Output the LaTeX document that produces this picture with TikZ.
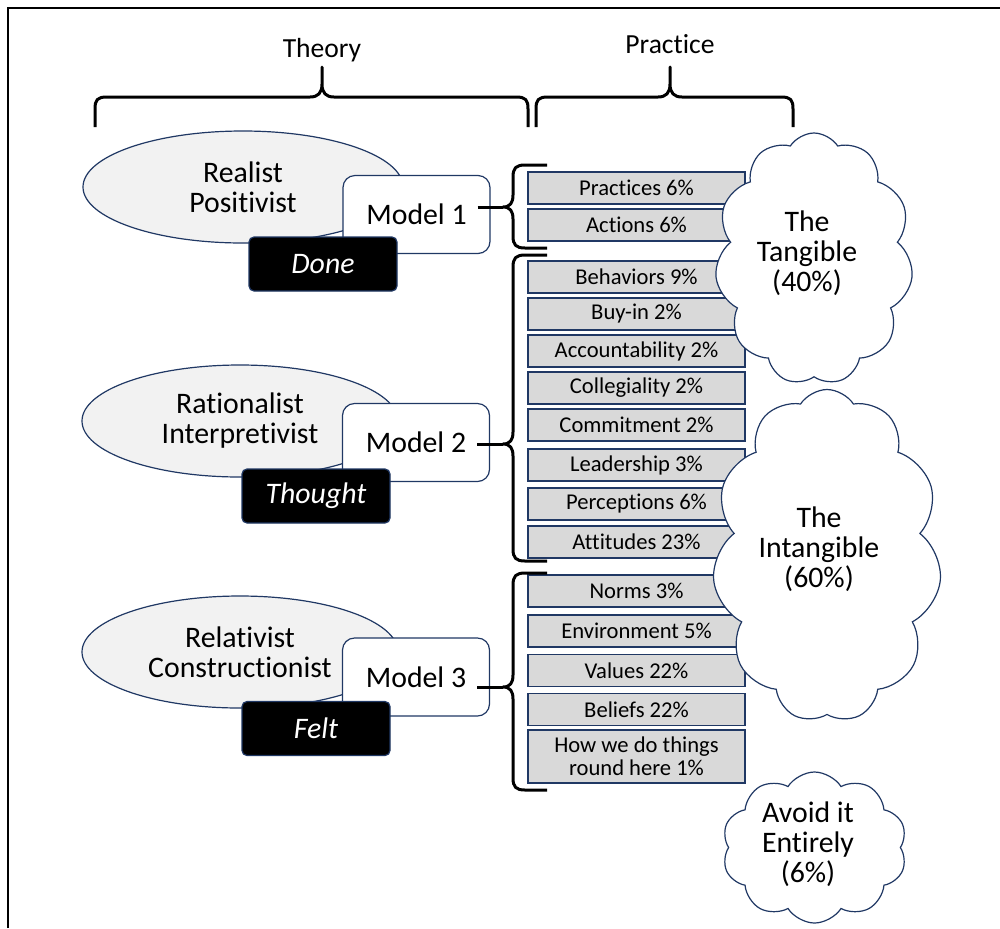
\documentclass[tikz,border=0pt]{standalone}
\usepackage{fontspec}
\setmainfont{Carlito}[Ligatures=NoCommon]
\usetikzlibrary{shapes.geometric,shapes.symbols,calc}
\definecolor{navy}{RGB}{32,56,100}
\definecolor{ellfill}{RGB}{242,242,242}
\definecolor{boxfill}{RGB}{217,217,217}
\newcommand\mybrace[3]{%
  \draw[brc] (547,#1) -- (525,#1) .. controls (516,#1) and (513,#1+3) .. (513,#1+12)
    -- (513,#2-12) .. controls (513,#2-4) and (510,#2) .. (503,#2)
    .. controls (510,#2) and (513,#2+4) .. (513,#2+12)
    -- (513,#3-12) .. controls (513,#3-3) and (516,#3) .. (525,#3) -- (547,#3);}
\newcommand\myhbrace[3]{%
  \draw[brc] (#1,127) -- (#1,109) .. controls (#1,100) and (#1+2,97) .. (#1+12,97)
    -- (#2-12,97) .. controls (#2-4,97) and (#2,93) .. (#2,84) -- (#2,67) -- (#2,84)
    .. controls (#2,93) and (#2+4,97) .. (#2+12,97)
    -- (#3-12,97) .. controls (#3-2,97) and (#3,100) .. (#3,109) -- (#3,127);}
\begin{document}
\begin{tikzpicture}[x=0.5pt,y=-0.5pt,
  bigtxt/.style={font=\fontsize{14.9}{15}\selectfont, align=center},
  ell/.style={ellipse, draw=navy, fill=ellfill, line width=0.6pt, inner sep=0pt, bigtxt,
    minimum width=158pt, minimum height=56pt},
  model/.style={rectangle, rounded corners=6pt, draw=navy, fill=white, line width=0.6pt,
    minimum width=73.5pt, minimum height=39pt, bigtxt, inner sep=0pt},
  lbl/.style={rectangle, rounded corners=2.5pt, draw=navy, fill=black, text=white, line width=0.6pt,
    minimum width=74pt, minimum height=27pt, font=\fontsize{14.9}{15}\selectfont\itshape, inner sep=0pt},
  gbox/.style={rectangle, draw=navy, fill=boxfill, line width=0.7pt, minimum width=108.5pt,
    minimum height=16pt, inner sep=0pt, align=center, font=\fontsize{11.3}{11.6}\selectfont},
  cloudbox/.style={cloud, cloud puffs=11, cloud puff arc=115, cloud ignores aspect, draw=navy,
    fill=white, line width=0.6pt, inner sep=0pt},
  cloudtxt/.style={bigtxt, inner sep=0pt},
  title/.style={font=\fontsize{13.8}{16}\selectfont, anchor=base, inner sep=0pt},
  brc/.style={line width=1.5pt, black, line join=round},
]
\useasboundingbox (0,0) rectangle (1000,928);
\fill[white] (0,0) rectangle (1000,928);
\draw[line width=1pt] (8,928) -- (8,8) -- (1000,8);

% titles and top braces
\node[title] (theory) at (322,57) {Theory};
\node[title] (practice) at (670,53) {Practice};
\myhbrace{95}{322}{528}
\myhbrace{536}{670}{793}

% theory side
\node[ell, minimum width=160pt] (e1) at (243,187) {Realist\\Positivist};
\node[model] (m1) at (416.5,214.5) {Model 1};
\node[lbl] (l1) at (323,264) {Done};

\node[ell] (e2) at (240,421) {Rationalist\\Interpretivist};
\node[model] (m2) at (416,442.5) {Model 2};
\node[lbl] (l2) at (316,496) {Thought};

\node[ell] (e3) at (240,652) {Relativist\\Constructionist};
\node[model] (m3) at (416,677) {Model 3};
\node[lbl] (l3) at (316,728.5) {Felt};

% practice boxes
\node[gbox] (b1) at (636.5,188) {Practices 6\%};
\node[gbox] (b2) at (636.5,225) {Actions 6\%};
\node[gbox] (b3) at (636.5,277) {Behaviors 9\%};
\node[gbox] (b4) at (636.5,314) {Buy-in 2\%};
\node[gbox] (b5) at (636.5,351) {Accountability 2\%};
\node[gbox] (b6) at (636.5,388) {Collegiality 2\%};
\node[gbox] (b7) at (636.5,425) {Commitment 2\%};
\node[gbox] (b8) at (636.5,465) {Leadership 3\%};
\node[gbox] (b9) at (636.5,504) {Perceptions 6\%};
\node[gbox] (b10) at (636.5,542) {Attitudes 23\%};
\node[gbox] (b11) at (636.5,591) {Norms 3\%};
\node[gbox] (b12) at (636.5,631) {Environment 5\%};
\node[gbox] (b13) at (636.5,670.5) {Values 22\%};
\node[gbox] (b14) at (636.5,709.5) {Beliefs 22\%};
\node[gbox, minimum height=26.5pt] (b15) at (636.5,756.5) {How we do things\\round here 1\%};

% braces and connectors
\coordinate (t1) at (503,207);
\coordinate (t2) at (503,444);
\coordinate (t3) at (503,687);
\mybrace{165}{207}{248}
\mybrace{255}{444}{561}
\mybrace{573}{687}{790}
\draw[brc] ($(m1.east|-t1)+(-13,0)$) -- (t1);
\draw[brc] ($(m2.east|-t2)+(-13,0)$) -- (t2);
\draw[brc] ($(m3.east|-t3)+(-13,0)$) -- (t3);

% clouds
\node[cloudbox, minimum width=99pt, minimum height=126pt] (c1) at (814,259) {};
\node[cloudtxt] (c1t) at (807,253) {The\\Tangible\\(40\%)};
\node[cloudbox, minimum width=114.5pt, minimum height=166.5pt] (c2) at (827,556) {};
\node[cloudtxt] (c2t) at (819,549) {The\\Intangible\\(60\%)};
\node[cloudbox, cloud puffs=10, minimum width=92.5pt, minimum height=75.5pt] (c3) at (814.5,847.5) {};
\node[cloudtxt] (c3t) at (808,844) {Avoid it\\Entirely\\(6\%)};
\end{tikzpicture}
\end{document}
